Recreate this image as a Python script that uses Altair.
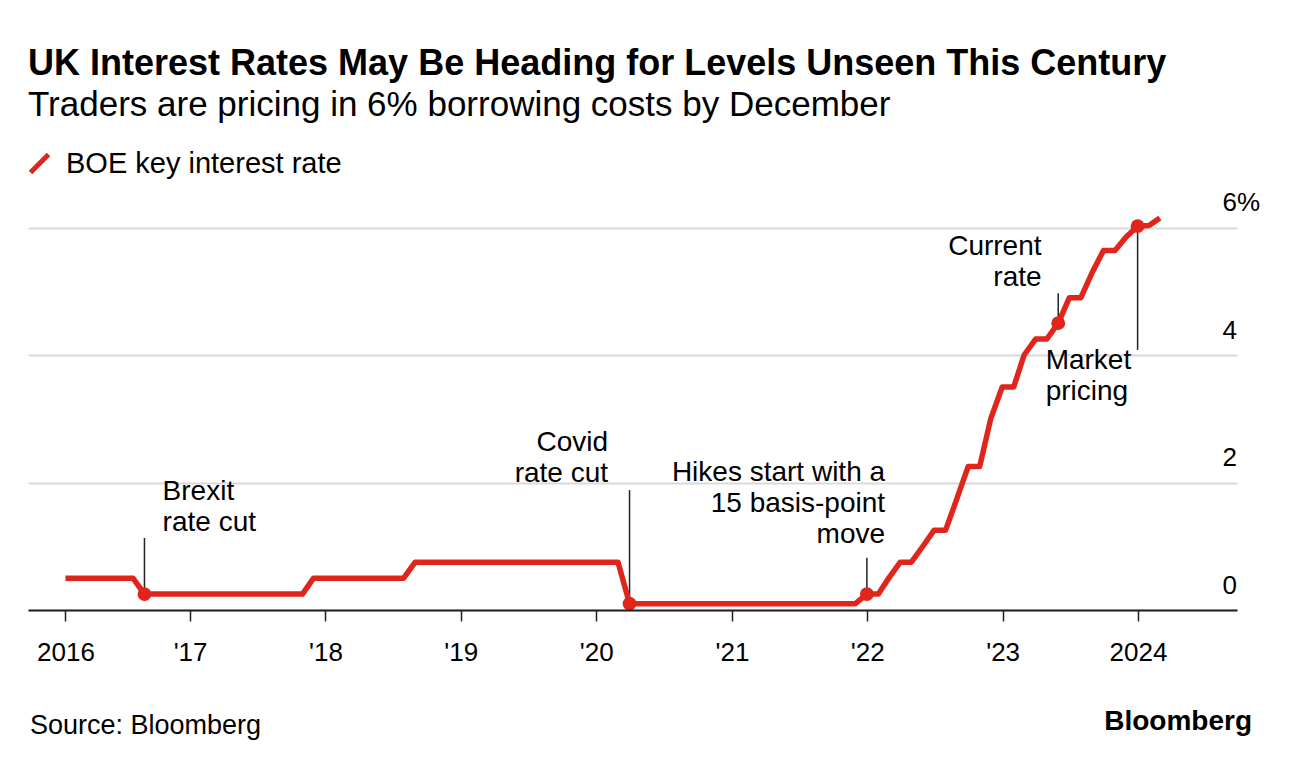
import altair as alt
import pandas as pd

# ---------------- data ----------------
SERIES = "BOE key interest rate"
dates = [
    "2016-01-31", "2016-07-31", "2016-08-31", "2017-10-31", "2017-11-30",
    "2018-07-31", "2018-08-31", "2020-02-29", "2020-03-31", "2021-11-30",
    "2021-12-31", "2022-01-31", "2022-02-28", "2022-03-31", "2022-04-30",
    "2022-05-31", "2022-06-30", "2022-07-31", "2022-08-31", "2022-09-30",
    "2022-10-31", "2022-11-30", "2022-12-31", "2023-01-31", "2023-02-28",
    "2023-03-31", "2023-04-30", "2023-05-31", "2023-06-30", "2023-07-31",
    "2023-08-31", "2023-09-30", "2023-10-31", "2023-11-30", "2023-12-31",
    "2024-01-31", "2024-02-29",
]
rates = [
    0.5, 0.5, 0.25, 0.25, 0.5,
    0.5, 0.75, 0.75, 0.1, 0.1,
    0.25, 0.25, 0.5, 0.75, 0.75,
    1.0, 1.25, 1.25, 1.75, 2.25,
    2.25, 3.0, 3.5, 3.5, 4.0,
    4.25, 4.25, 4.5, 4.9, 4.9,
    5.3, 5.64, 5.64, 5.85, 6.02,
    6.03, 6.15,
]

dot_dates = ["2016-08-31", "2020-03-31", "2021-12-31", "2023-05-31", "2023-12-31"]
dot_rates = [0.25, 0.1, 0.25, 4.5, 6.02]
leader_ends = [1.13, 1.88, 0.82, 4.97, 4.08]

left_notes = ["Brexit\nrate cut", "Market\npricing"]
left_note_dates = ["2016-10-19", "2023-04-27"]
left_note_y = [1.725, 3.78]

right_notes = ["Covid\nrate cut", "Hikes start with a\n15 basis-point\nmove", "Current\nrate"]
right_note_dates = ["2020-02-02", "2022-02-18", "2023-04-16"]
right_note_y = [2.494, 2.024, 5.569]

tick_years = [2016, 2017, 2018, 2019, 2020, 2021, 2022, 2023, 2024]
y_ticks = [0, 2, 4, 6]

title_text = "UK Interest Rates May Be Heading for Levels Unseen This Century"
subtitle_text = "Traders are pricing in 6% borrowing costs by December"
source_text = ["Source: Bloomberg"]
logo_text = ["Bloomberg"]

RED = "#e0251c"
FONT = "Liberation Sans"

def t(d):
    return d + "T00:00:00"

line_df = pd.DataFrame({"date": [t(d) for d in dates], "rate": rates, "series": SERIES})
dot_df = pd.DataFrame({"date": [t(d) for d in dot_dates], "rate": dot_rates, "end": leader_ends})
left_df = pd.DataFrame({"date": [t(d) for d in left_note_dates], "rate": left_note_y, "label": left_notes})
right_df = pd.DataFrame({"date": [t(d) for d in right_note_dates], "rate": right_note_y, "label": right_notes})

tick_values = [alt.DateTime(year=2016, month=1, date=31)] + [
    alt.DateTime(year=y, month=1, date=1) for y in tick_years[1:]
]

x_scale = alt.Scale(domain=[alt.DateTime(year=2015, month=10, date=22),
                            alt.DateTime(year=2024, month=9, date=24)])
y_scale = alt.Scale(domain=[0, 6.4], nice=False, zero=False)

x_axis = alt.Axis(
    values=tick_values,
    labelExpr="(year(datum.value) == 2016 || year(datum.value) == 2024) ? timeFormat(datum.value, '%Y') : \"'\" + timeFormat(datum.value, '%y')",
    grid=False, domainColor="#222222", domainWidth=2, tickColor="#222222", tickWidth=1.5,
    tickSize=11, labelFontSize=26, labelFont=FONT, labelColor="black", labelPadding=18,
    title=None, labelFlush=False, zindex=2,
)
y_axis = alt.Axis(
    orient="right", values=y_ticks,
    labelExpr="datum.value == 6 ? '6%' : format(datum.value, 'd')",
    grid=True, gridColor="#d9d9d9", gridWidth=2, domain=False, ticks=False,
    labelAlign="left", labelBaseline="alphabetic", labelPadding=-15, labelOffset=-17,
    labelFontSize=26, labelFont=FONT, labelColor="black", title=None,
)

line = alt.Chart(line_df).mark_line(strokeWidth=5.5, strokeJoin="round").encode(
    x=alt.X("date:T", scale=x_scale, axis=x_axis),
    y=alt.Y("rate:Q", scale=y_scale, axis=y_axis),
    color=alt.Color("series:N", scale=alt.Scale(domain=[SERIES], range=[RED]),
                    legend=alt.Legend(orient="none", legendX=-3, legendY=-53, title=None,
                                      symbolType="M-1,1L1,-1", symbolStrokeWidth=5,
                                      symbolSize=324, symbolStrokeColor=RED,
                                      labelFontSize=29, labelFont=FONT, labelColor="black",
                                      labelOffset=12, labelLimit=600, padding=0)),
)

rules = alt.Chart(dot_df).mark_rule(color="#222222", strokeWidth=1.5).encode(
    x="date:T", y="rate:Q", y2="end:Q",
)

dots = alt.Chart(dot_df).mark_circle(size=190, opacity=1, color=RED).encode(
    x="date:T", y="rate:Q",
)

left_text = alt.Chart(left_df).mark_text(
    align="left", baseline="alphabetic", fontSize=28, font=FONT, lineBreak="\n",
    lineHeight=31, color="black",
).encode(x="date:T", y="rate:Q", text="label:N")

right_text = alt.Chart(right_df).mark_text(
    align="right", baseline="alphabetic", fontSize=28, font=FONT, lineBreak="\n",
    lineHeight=31, color="black",
).encode(x="date:T", y="rate:Q", text="label:N")

source = alt.Chart(pd.DataFrame({"t": source_text})).mark_text(
    align="left", baseline="alphabetic", fontSize=27, font=FONT, color="black",
).encode(x=alt.value(2), y=alt.value(532), text="t:N")

logo = alt.Chart(pd.DataFrame({"t": logo_text})).mark_text(
    align="right", baseline="alphabetic", fontSize=28, font=FONT, fontWeight="bold",
    color="black",
).encode(x=alt.value(1224), y=alt.value(528), text="t:N")

chart = alt.layer(rules, line, dots, left_text, right_text, source, logo).properties(
    width=1209, height=408,
    background="white",
    padding={"left": 17, "top": 38, "right": 10, "bottom": 10},
    title=alt.TitleParams(
        text=title_text, subtitle=subtitle_text, anchor="start", frame="group",
        font=FONT, fontSize=36, fontWeight="bold", color="black",
        subtitleFont=FONT, subtitleFontSize=35, subtitleColor="black",
        subtitlePadding=5, offset=25,
    ),
).configure_view(stroke=None)

chart.save("out.html", embed_options={"renderer": "svg", "actions": False})
